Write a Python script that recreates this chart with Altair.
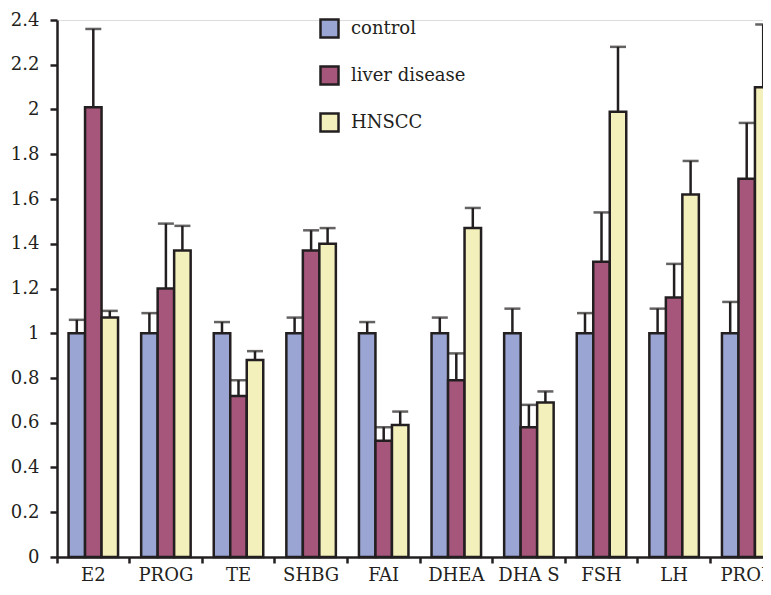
import altair as alt
import pandas as pd

categories = ["E2", "PROG", "TE", "SHBG", "FAI", "DHEA", "DHA S", "FSH", "LH", "PROL"]
groups = ["control", "liver disease", "HNSCC"]
control = [1.0, 1.0, 1.0, 1.0, 1.0, 1.0, 1.0, 1.0, 1.0, 1.0]
control_err = [1.06, 1.09, 1.05, 1.07, 1.05, 1.07, 1.11, 1.09, 1.11, 1.14]
liver = [2.01, 1.20, 0.72, 1.37, 0.52, 0.79, 0.58, 1.32, 1.16, 1.69]
liver_err = [2.36, 1.49, 0.79, 1.46, 0.58, 0.91, 0.68, 1.54, 1.31, 1.94]
hnscc = [1.07, 1.37, 0.88, 1.40, 0.59, 1.47, 0.69, 1.99, 1.62, 2.10]
hnscc_err = [1.10, 1.48, 0.92, 1.47, 0.65, 1.56, 0.74, 2.28, 1.77, 2.38]
colors = ["#9aa5d4", "#a6567b", "#f4f0bb"]

rows = []
for g, vals, errs in zip(groups, [control, liver, hnscc], [control_err, liver_err, hnscc_err]):
    for c, v, e in zip(categories, vals, errs):
        rows.append({"cat": c, "group": g, "value": v, "err": e})
df = pd.DataFrame(rows)

FONT = "DejaVu Serif"
INK = "#231f20"

x = alt.X("cat:N", sort=categories, title=None,
          scale=alt.Scale(paddingInner=0, paddingOuter=0, range=[0, 726]),
          axis=alt.Axis(labelAngle=0, bandPosition=0, tickSize=6, tickWidth=2.5,
                        domainWidth=2.5, domainColor=INK, tickColor=INK,
                        labelFont=FONT, labelFontSize=18, labelColor=INK,
                        labelPadding=3, grid=False, labelBound=False, labelOverlap=False))
xo = alt.XOffset("group:N", sort=groups,
                 scale=alt.Scale(paddingInner=0, paddingOuter=0.7))
y_axis = alt.Axis(values=[0, 0.2, 0.4, 0.6, 0.8, 1, 1.2, 1.4, 1.6, 1.8, 2, 2.2, 2.4],
                  format="~g", tickSize=7, tickWidth=2.5, domainWidth=2.5,
                  domainColor=INK, tickColor=INK, labelFont=FONT, labelFontSize=18,
                  labelColor=INK, labelPadding=11, grid=False, title=None)
y_scale = alt.Scale(domain=[0, 2.4], nice=False)

base = alt.Chart(df)

bars = base.mark_bar(stroke=INK, strokeWidth=2.5).encode(
    x=x, xOffset=xo,
    y=alt.Y("value:Q", scale=y_scale, axis=y_axis),
    color=alt.Color("group:N", sort=groups,
                    scale=alt.Scale(domain=groups, range=colors),
                    legend=alt.Legend(title=None, orient="none", legendX=262, legendY=-2,
                                      symbolType="square", symbolSize=324,
                                      symbolStrokeColor=INK, symbolStrokeWidth=2.5,
                                      labelFont=FONT, labelFontSize=18, labelColor=INK,
                                      labelOffset=11, rowPadding=18, padding=0)),
)

rules = base.mark_rule(color=INK, strokeWidth=2.5).encode(
    x=x, xOffset=xo,
    y=alt.Y("value:Q", scale=y_scale),
    y2="err:Q",
)

caps = base.mark_tick(color=INK, thickness=2.5, size=16).encode(
    x=x, xOffset=xo,
    y=alt.Y("err:Q", scale=y_scale),
)

chart = alt.layer(rules, caps, bars).properties(
    width=706, height=537,
    autosize=alt.AutoSizeParams(type="none"),
    padding={"left": 49, "top": 12, "right": 0, "bottom": 30},
).configure_view(stroke=None).configure(background="white")

chart.save("out.html", embed_options={"renderer": "svg", "actions": False})
